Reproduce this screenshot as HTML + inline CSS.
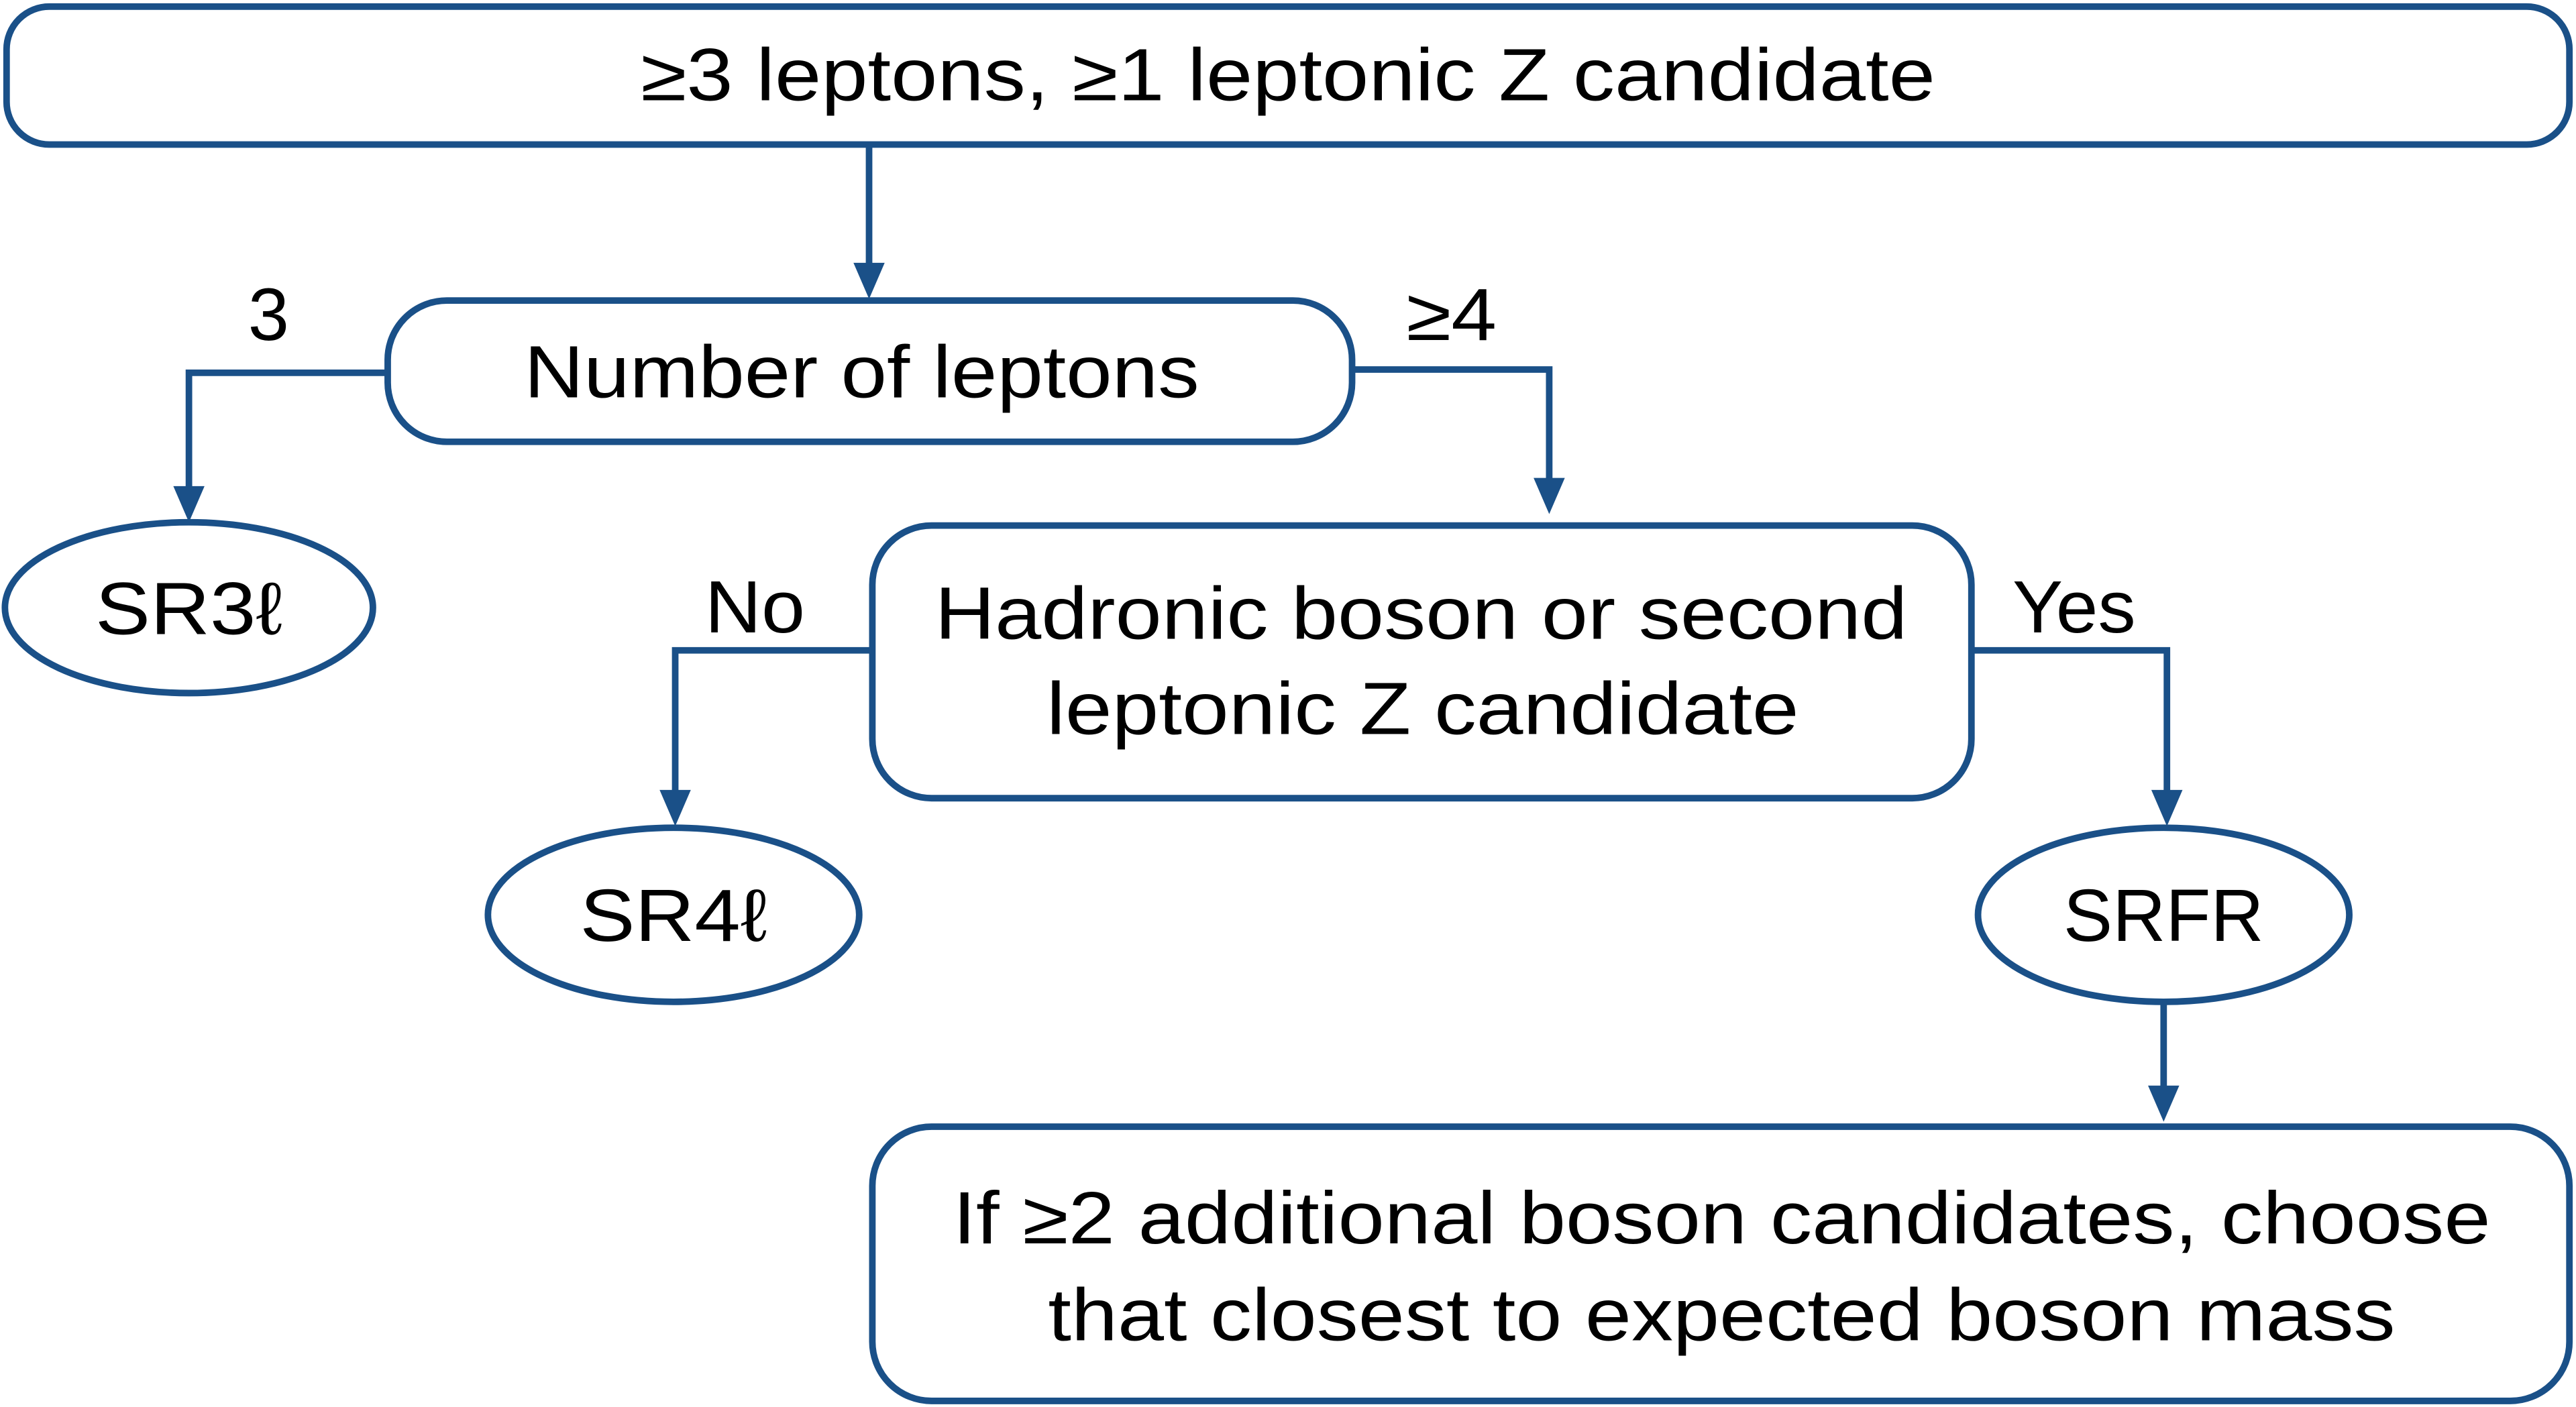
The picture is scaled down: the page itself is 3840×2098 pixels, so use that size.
<!DOCTYPE html>
<html><head><meta charset="utf-8"><style>
html,body{margin:0;padding:0;background:#fff;}
svg{display:block;}
text{font-family:"Liberation Sans","DejaVu Sans",sans-serif;fill:#000;}
</style></head><body>
<svg width="3840" height="2098" viewBox="0 0 1568 856.7" preserveAspectRatio="none" xmlns="http://www.w3.org/2000/svg">
<g fill="none" stroke="#1a5088" stroke-width="4">
<rect x="4" y="4" width="1560" height="84" rx="26"/>
<rect x="236" y="183" width="587" height="86" rx="36"/>
<rect x="531" y="320" width="669" height="166" rx="36"/>
<rect x="531" y="686" width="1033" height="167" rx="36"/>
<ellipse cx="115" cy="370" rx="112" ry="52"/>
<ellipse cx="410" cy="557" rx="113" ry="53"/>
<ellipse cx="1317" cy="557" rx="113" ry="53"/>
<polyline points="529,88 529,162"/>
<polyline points="236,227 115,227 115,298"/>
<polyline points="823,225 943,225 943,293"/>
<polyline points="531,396 411,396 411,483"/>
<polyline points="1200,396 1319,396 1319,483"/>
<polyline points="1317,610 1317,663"/>
</g>
<g fill="#1a5088">
<polygon points="519.5,160 538.5,160 529,182"/>
<polygon points="105.5,296 124.5,296 115,318"/>
<polygon points="933.5,291 952.5,291 943,313"/>
<polygon points="401.5,481 420.5,481 411,503"/>
<polygon points="1309.5,481 1328.5,481 1319,503"/>
<polygon points="1307.5,661 1326.5,661 1317,683"/>
</g>
<g font-size="45" lengthAdjust="spacingAndGlyphs">
<text x="390" y="61" textLength="788" lengthAdjust="spacingAndGlyphs">≥3 leptons, ≥1 leptonic Z candidate</text>
<text x="319" y="242" textLength="411" lengthAdjust="spacingAndGlyphs">Number of leptons</text>
<text x="569" y="389" textLength="592" lengthAdjust="spacingAndGlyphs">Hadronic boson or second</text>
<text x="637" y="447" textLength="458" lengthAdjust="spacingAndGlyphs">leptonic Z candidate</text>
<text x="580" y="757" textLength="936" lengthAdjust="spacingAndGlyphs">If ≥2 additional boson candidates, choose</text>
<text x="638" y="816" textLength="820" lengthAdjust="spacingAndGlyphs">that closest to expected boson mass</text>
<text x="58" y="386" textLength="114" lengthAdjust="spacingAndGlyphs">SR3ℓ</text>
<text x="353" y="573" textLength="114" lengthAdjust="spacingAndGlyphs">SR4ℓ</text>
<text x="1256" y="573" textLength="122" lengthAdjust="spacingAndGlyphs">SRFR</text>
<text x="151" y="207" textLength="25" lengthAdjust="spacingAndGlyphs">3</text>
<text x="856" y="207" textLength="55" lengthAdjust="spacingAndGlyphs">≥4</text>
<text x="429" y="385" textLength="61" lengthAdjust="spacingAndGlyphs">No</text>
<text x="1225" y="385" textLength="75" lengthAdjust="spacingAndGlyphs">Yes</text>
</g>
</svg>
</body></html>
